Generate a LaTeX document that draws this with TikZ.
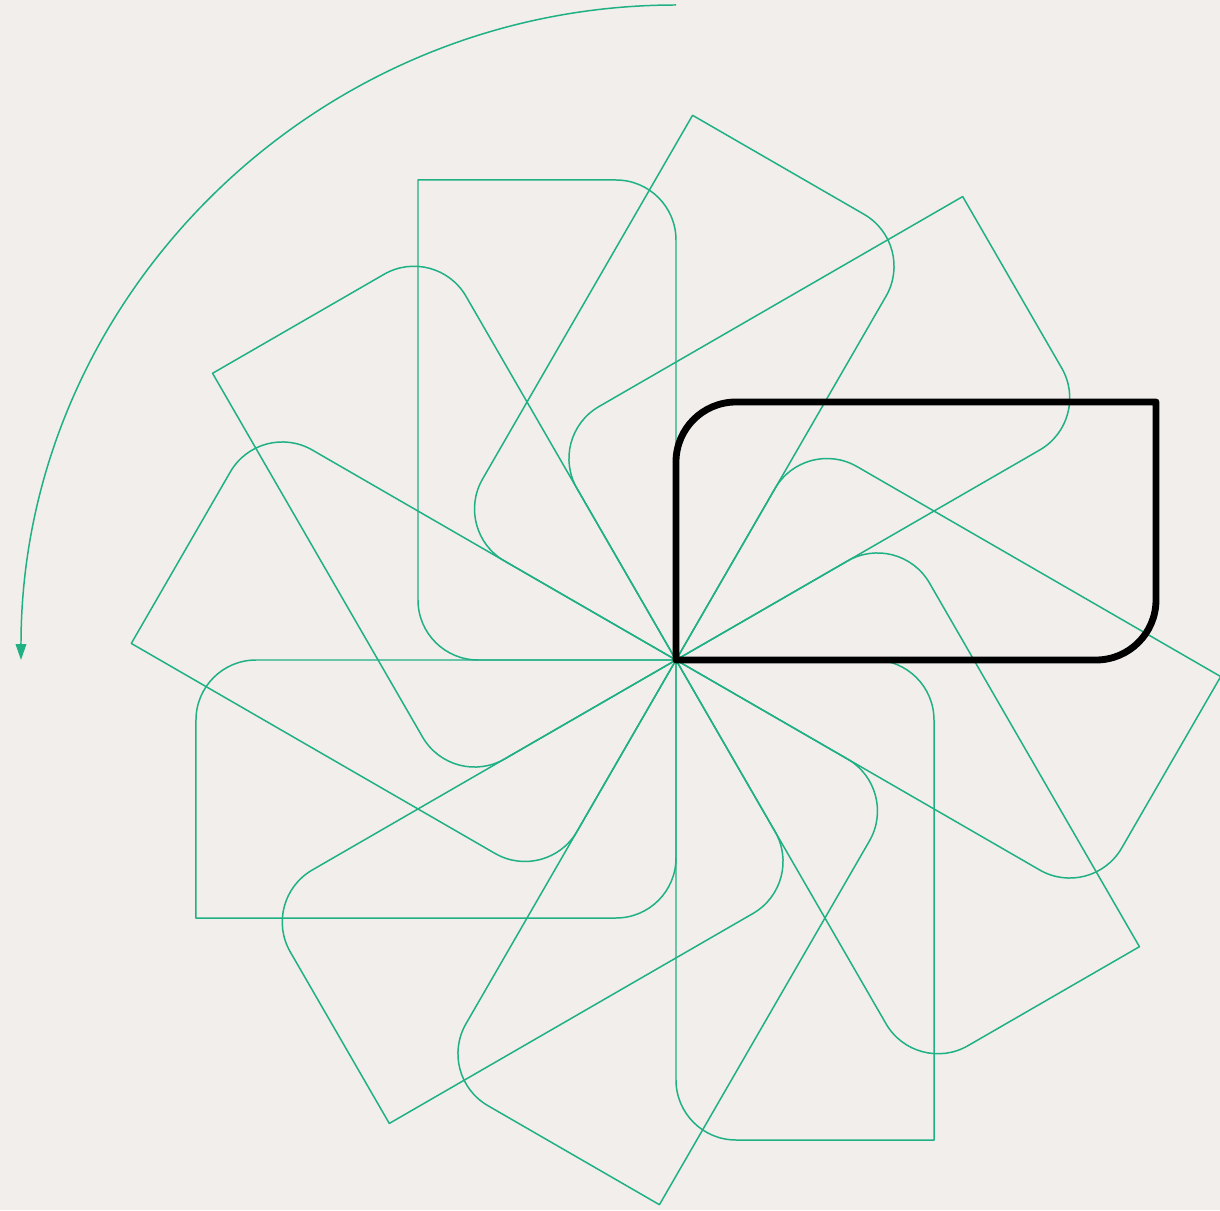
\documentclass[tikz,border=0pt]{standalone}
\usetikzlibrary{arrows.meta}
\definecolor{paper}{HTML}{F1EEEB}
\definecolor{mint}{HTML}{1FB084}
\newcommand{\tabshape}{(0,0) -- (0,198) arc[start angle=180, end angle=90, radius=60] -- (480,258) -- (480,60) arc[start angle=0, end angle=-90, radius=60] -- cycle}
\begin{document}
\begin{tikzpicture}[
        x=0.02cm, y=0.02cm,
        ghost/.style={draw=mint, line width=0.85pt, line join=round},
        active/.style={draw=black, line width=3.9pt, line join=round},
        turn/.style={draw=mint, line width=0.85pt, -{Triangle[length=9pt, width=6pt]}}
    ]
        \fill[paper] (-676,-550) rectangle (544,660);
        \useasboundingbox (-676,-550) rectangle (544,660);

        % rotated copies
        \foreach \a in {30,60,...,330}
            \draw[ghost, rotate=\a] \tabshape;

        % original shape
        \draw[active] \tabshape;

        % rotation direction
        \coordinate (start) at (0,655);
        \draw[turn] (start) arc[start angle=90, end angle=180, radius=655];
    \end{tikzpicture}
\end{document}
